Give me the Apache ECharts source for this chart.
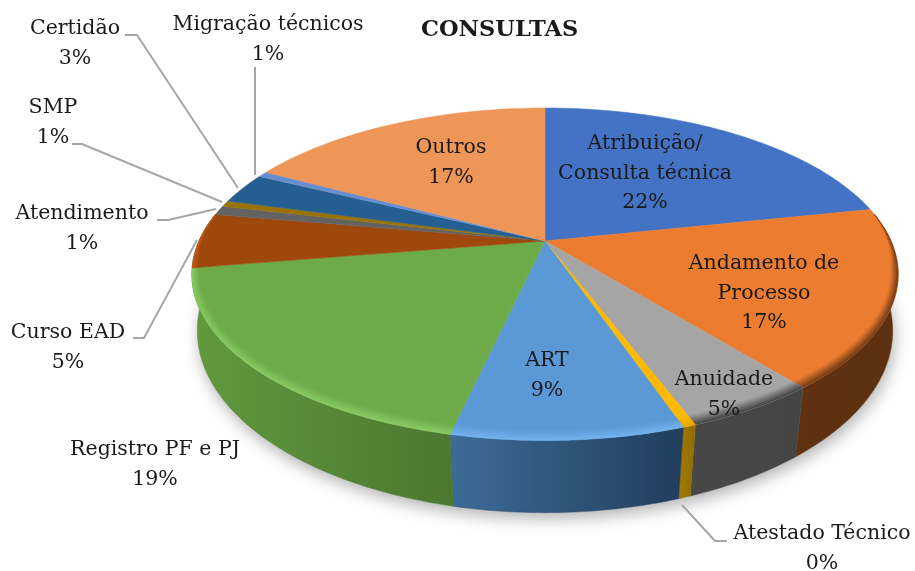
<!DOCTYPE html>
<html>
<head>
<meta charset="utf-8">
<title>Consultas</title>
<script src="https://cdn.jsdelivr.net/npm/echarts@6/dist/echarts.min.js"></script>
<style>
  html, body { margin: 0; padding: 0; background: #fff; }
  #main { width: 915px; height: 571px; }
</style>
</head>
<body>
<div id="main"></div>
<script>
const title = 'CONSULTAS'
const categories = ['Atribuição/\nConsulta técnica', 'Andamento de\nProcesso', 'Anuidade', 'Atestado Técnico', 'ART', 'Registro PF e PJ', 'Curso EAD', 'Atendimento', 'SMP', 'Certidão', 'Migração técnicos', 'Outros']
const values = [21.7, 17.45, 5.1, 0.49, 8.8, 18.85, 5.35, 0.9, 0.6, 3, 0.55, 17.2]

const topColors = ['#4472c4', '#eb7c30', '#a5a5a5', '#ffb900', '#5a98d6', '#6dab48', '#9e480e', '#636363', '#997300', '#255e91', '#698ed0', '#ee9658']
const rimColors = ['#2f4f88', '#6b3815', '#3e3e3e', '#e0a800', '#74b4ee', '#8ccc66', '#c75e14', '#636363', '#997300', '#255e91', '#698ed0', '#ee9658']
const wallColors = [
  ['#2a4476', '#2a4476'], ['#603211', '#5c3010'], ['#484848', '#444444'], ['#a37b00', '#8f6c00'],
  ['#3d6c98', '#213d5c'], ['#629a3e', '#4c7730'], ['#5f2b08', '#5f2b08'], ['#3c3c3c', '#3c3c3c'],
  ['#5c4500', '#5c4500'], ['#163858', '#163858'], ['#3f557d', '#3f557d'], ['#915b36', '#915b36']
]

// text centre of each label, [x, first line y]
const labelPos = [[645, 143], [764, 263], [724, 379], [822, 533], [547, 360], [155, 449], [68, 332], [82, 213], [53, 107], [75, 28], [268, 24], [451, 147]]
const leaders = [
  [[727, 541], [715, 541], [682, 505]],
  [[133, 338], [144, 338], [197, 240]],
  [[157, 220], [168, 220], [216, 209]],
  [[72, 144], [82, 144], [222, 202]],
  [[125, 35], [137, 35], [238, 188]],
  [[255, 67], [255, 175]]
]

// the disc is a circle seen in perspective: hub, radii, and depth factor of each face
const topFace = { x: 545, y: 241, rx: 346, ry: 159.6, k: 0.2 }
const baseFace = { x: 545, y: 298, rx: 342, ry: 176, k: 0.18 }
const font = '"DejaVu Serif", serif'

const total = values.reduce((a, b) => a + b, 0)
let sum = 0
const angles = values.map(v => {
  let a = [sum / total * 360, (sum + v) / total * 360]
  sum += v
  return a
})

function project (face, deg) {
  let t = deg * Math.PI / 180
  let px = Math.sin(t)
  let py = -Math.cos(t)
  let d = 1 - face.k * py
  return [face.x + face.rx * px / d, face.y + face.ry * py / d]
}

function arc (face, from, to) {
  let pts = []
  let n = Math.max(1, Math.ceil(to - from))
  for (let i = 0; i <= n; i++) {
    pts.push(project(face, from + (to - from) * i / n))
  }
  return pts
}

// curve just inside the top rim, pulled toward the hub so it stays on the slice seams
function bevelCurve (from, to, f) {
  return arc(topFace, from, to).map((p, i, list) => {
    let deg = from + (to - from) * i / (list.length - 1)
    let t = deg * Math.PI / 180
    let taper = Math.min(1, Math.min(deg - 80, 280 - deg) / 20)
    let w = 0.055 * Math.cos(t) * Math.cos(t) + 0.02 * Math.sin(t) * Math.sin(t)
    let s = 1 - f * taper * w
    return [topFace.x + (p[0] - topFace.x) * s, topFace.y + (p[1] - topFace.y) * s]
  })
}

function mix (c1, c2, f) {
  let out = '#'
  for (let i = 1; i < 7; i += 2) {
    let a = parseInt(c1.substr(i, 2), 16)
    let b = parseInt(c2.substr(i, 2), 16)
    out += Math.round(a + (b - a) * f).toString(16).padStart(2, '0')
  }
  return out
}

function renderWall (params) {
  let i = params.dataIndex
  let children = []
  if (i === 0) {
    children.push({
      type: 'polygon',
      shape: { points: arc(baseFace, 0, 360) },
      style: { fill: '#fff', shadowBlur: 16, shadowColor: 'rgba(0,0,0,0.3)', shadowOffsetY: 6, shadowOffsetX: 2 }
    })
  }
  // the green slice is the last one whose wall shows, it runs on behind the top face
  let from = Math.max(angles[i][0], 85)
  let to = i === 5 ? 278 : angles[i][1]
  if (from < to && i <= 5) {
    let fill = { type: 'linear', x: 0, y: 0, x2: 1, y2: 0, colorStops: [{ offset: 0, color: wallColors[i][0] }, { offset: 1, color: wallColors[i][1] }] }
    children.push({
      type: 'polygon',
      shape: { points: arc(topFace, from, to).concat(arc(baseFace, from, to).reverse()) },
      style: { fill: fill, stroke: wallColors[i][1], lineWidth: 0.5 }
    })
  }
  return { type: 'group', children: children }
}

function renderTop (params) {
  let i = params.dataIndex
  let a = angles[i]
  let children = [{
    type: 'polygon',
    shape: { points: [[topFace.x, topFace.y]].concat(arc(topFace, a[0], a[1])) },
    style: { fill: topColors[i], stroke: topColors[i], lineWidth: 0.5 }
  }]
  let from = Math.max(a[0], 80)
  let to = Math.min(a[1], 280)
  if (from < to) {
    let steps = 6
    for (let j = 0; j < steps; j++) {
      let outer = bevelCurve(from, to, 1 - j / steps)
      let inner = bevelCurve(from, to, 1 - (j + 1) / steps)
      let color = mix(topColors[i], rimColors[i], (j + 0.5) / steps)
      children.push({
        type: 'polygon',
        shape: { points: outer.concat(inner.reverse()) },
        style: { fill: color, stroke: color, lineWidth: 0.3 }
      })
    }
  }
  return { type: 'group', children: children }
}

function renderLabel (params, api) {
  let i = params.dataIndex
  let percent = Math.round(api.value(0) / total * 100)
  return {
    type: 'text',
    x: labelPos[i][0],
    y: labelPos[i][1] - 14,
    style: {
      text: categories[i] + '\n' + percent + '%',
      font: '20.5px ' + font,
      lineHeight: 29.5,
      fill: '#1a1a1a',
      align: 'center',
      verticalAlign: 'top'
    }
  }
}

function renderLeader (params) {
  return {
    type: 'polyline',
    shape: { points: leaders[params.dataIndex] },
    style: { fill: 'none', stroke: '#a6a6a6', lineWidth: 2 }
  }
}

const seriesData = values.map((v, i) => [v, i])
const myChart = echarts.init(document.getElementById('main'))
myChart.setOption({
  animation: false,
  title: {
    text: title,
    left: 421,
    top: 19,
    padding: 0,
    textStyle: { fontFamily: font, fontSize: 22.5, fontWeight: 'bold', color: '#1a1a1a' }
  },
  series: [
    { type: 'custom', coordinateSystem: 'none', z: 1, silent: true, data: seriesData, renderItem: renderWall },
    { type: 'custom', coordinateSystem: 'none', z: 2, silent: true, data: seriesData, renderItem: renderTop },
    { type: 'custom', coordinateSystem: 'none', z: 3, silent: true, data: leaders.map((l, i) => [i]), renderItem: renderLeader },
    { type: 'custom', coordinateSystem: 'none', z: 4, silent: true, data: seriesData, renderItem: renderLabel }
  ]
})
window.addEventListener('resize', () => {
  myChart.resize()
})
</script>
</body>
</html>
